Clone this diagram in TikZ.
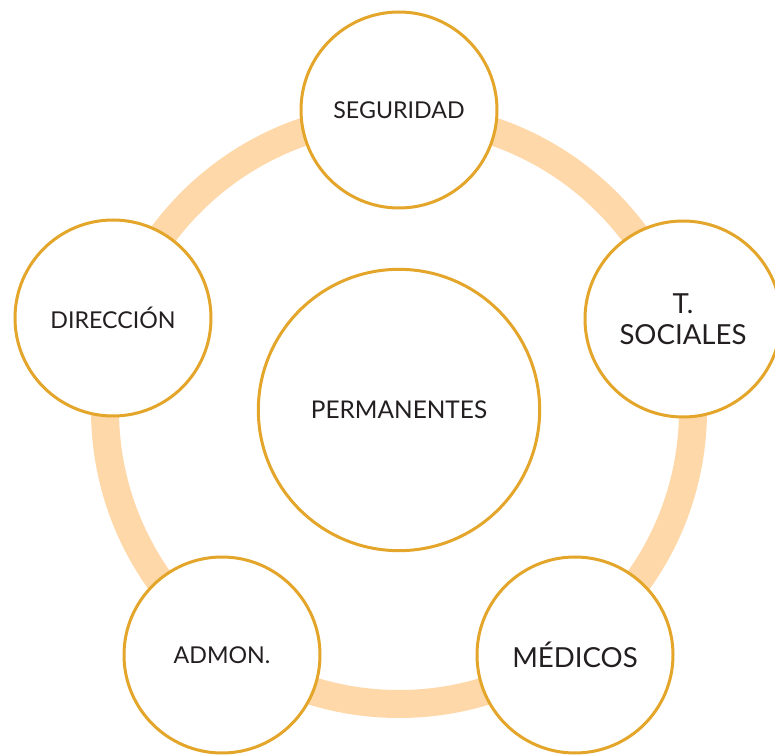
\documentclass[tikz,border=0pt]{standalone}
\usepackage{fontspec}
\setmainfont{Lato}
\definecolor{ringc}{HTML}{FED8A8}
\definecolor{edgec}{HTML}{E3A52A}
\definecolor{txtc}{HTML}{231F20}
\begin{document}
\begin{tikzpicture}[x=0.75pt,y=-0.75pt,
  petal/.style={circle,draw=edgec,line width=2.25pt,fill=white,minimum size=147pt,inner sep=0pt,text=txtc,align=center},
  hub/.style={circle,draw=edgec,line width=2.25pt,fill=white,minimum size=211pt,inner sep=0pt,text=txtc,align=center},
  small/.style={font=\fontsize{17.4}{20}\selectfont},
  mid/.style={font=\fontsize{18.3}{21}\selectfont},
  big/.style={font=\fontsize{20.7}{23.5}\selectfont}]
\useasboundingbox (0,0) rectangle (775,755);
\coordinate (c) at (399,410);
\draw[ringc,line width=21pt] (c) circle[radius=294];
\node[hub,mid] (perm) at (399,410) {PERMANENTES};
\node[petal,small] (seg) at (399,110) {SEGURIDAD};
\node[petal,big] (soc) at (683,319) {T.\\SOCIALES};
\node[petal,big] (med) at (575,655) {MÉDICOS};
\node[petal,small] (adm) at (222,655) {ADMON.};
\node[petal,small] (dir) at (113,318) {DIRECCIÓN};
\end{tikzpicture}
\end{document}
